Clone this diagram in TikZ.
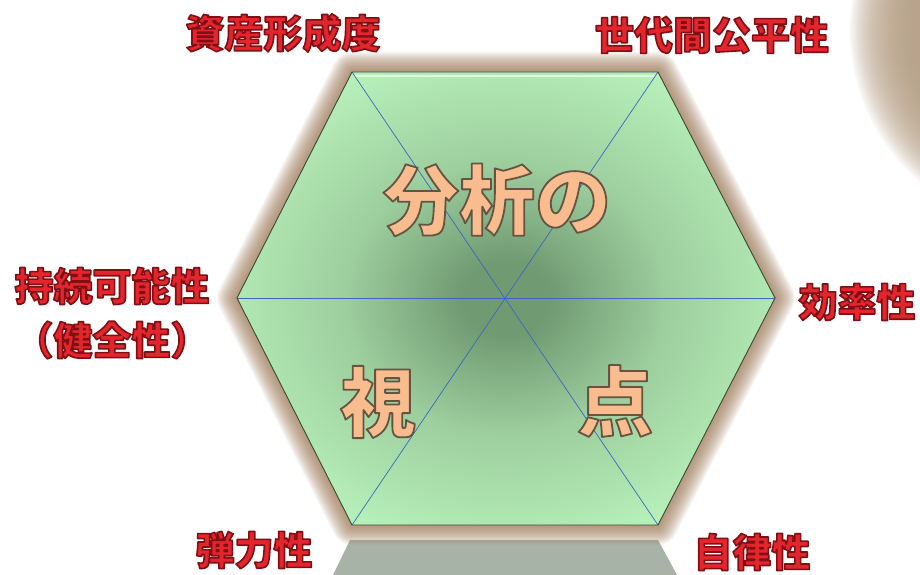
\documentclass[tikz,border=0pt]{standalone}
\usepackage{fontspec}
\newfontfamily\cjk{Noto Sans CJK JP}
\usetikzlibrary{calc}
\definecolor{glight}{HTML}{B7EFB9}
\definecolor{gmid}{HTML}{9DCE9E}
\definecolor{gdark}{HTML}{709A72}
\definecolor{halo}{HTML}{9C7652}
\definecolor{lblred}{HTML}{E3262E}
\definecolor{peach}{HTML}{F8BC8E}
\definecolor{bline}{HTML}{3A66C4}
\definecolor{refl}{HTML}{98A698}
\definecolor{blurc}{HTML}{B9A288}
\definecolor{hexedge}{HTML}{3A4A36}
\pgfdeclareradialshading{hexshade}{\pgfpoint{0bp}{0bp}}{color(0bp)=(gdark); color(4bp)=(gdark); color(15bp)=(gmid); color(28bp)=(glight); color(50bp)=(glight)}
% outlined text via PDF text render mode (fill + stroke)
\newcommand\strk[3]{\special{pdf:literal direct 2 Tr #1 w 1 j #2 RG}#3\special{pdf:literal direct 0 Tr 0.4 w 0 j}}
\newcommand\lab[1]{\textcolor{lblred}{\strk{1.6}{0.50 0.06 0.08}{#1}}}
\newcommand\bigt[1]{\textcolor{peach}{\strk{1.8}{0.40 0.33 0.26}{#1}}}
\begin{document}
\begin{tikzpicture}[x=1pt,y=-1pt,
  lbl/.style={font=\cjk\bfseries\fontsize{39}{54}\selectfont, inner sep=0pt, align=center},
  bigtxt/.style={font=\cjk\bfseries\fontsize{76}{80}\selectfont, inner sep=0pt},
  diag/.style={bline, line width=0.7pt}]
\useasboundingbox (0,0) rectangle (920,575);
\fill[white] (0,0) rectangle (920,575);
\begin{scope}
\clip (0,0) rectangle (920,575);
\foreach \r in {140,142,...,200} \fill[blurc, opacity=0.08] (1050,30) circle (\r);
\end{scope}
% hexagon corners
\coordinate (A) at (352,72);
\coordinate (B) at (658,72);
\coordinate (C) at (775,298);
\coordinate (D) at (658,525);
\coordinate (E) at (352,525);
\coordinate (F) at (237,298);
% reflection
\fill[refl, opacity=0.85] (350,540) -- (658,540) -- (677,575) -- (333,575) -- cycle;
% halo
\foreach \w in {2,4,...,40}
  \draw[halo, line width=\w pt, opacity=0.06, line join=round, shift={(0,4)}] (A) -- (B) -- (C) -- (D) -- (E) -- (F) -- cycle;
% hexagon
\shade[shading=hexshade] (A) -- (B) -- (C) -- (D) -- (E) -- (F) -- cycle;
\draw[white, opacity=0.6, line width=2pt] ($(A)+(3,4)$) -- ($(B)+(-3,4)$);
\draw[diag] (A) -- (D);
\draw[diag] (B) -- (E);
\draw[diag] (F) -- (C);
\draw[hexedge, line width=0.9pt, line join=round] (A) -- (B) -- (C) -- (D) -- (E) -- (F) -- cycle;
% big text
\node[bigtxt] (bunseki) at (497,200) {\bigt{分析の}};
\node[bigtxt] (shi) at (378,402) {\bigt{視}};
\node[bigtxt] (ten) at (615,401) {\bigt{点}};
% labels
\node[lbl] (shisan) at (283,33) {\lab{資産形成度}};
\node[lbl] (sedai) at (712,35) {\lab{世代間公平性}};
\node[lbl] (jizoku) at (112,313) {\lab{持続可能性}\\\lab{（健全性）}};
\node[lbl] (koritsu) at (857,302) {\lab{効率性}};
\node[lbl] (danryoku) at (254,550) {\lab{弾力性}};
\node[lbl] (jiritsu) at (752,552) {\lab{自律性}};
\end{tikzpicture}
\end{document}
